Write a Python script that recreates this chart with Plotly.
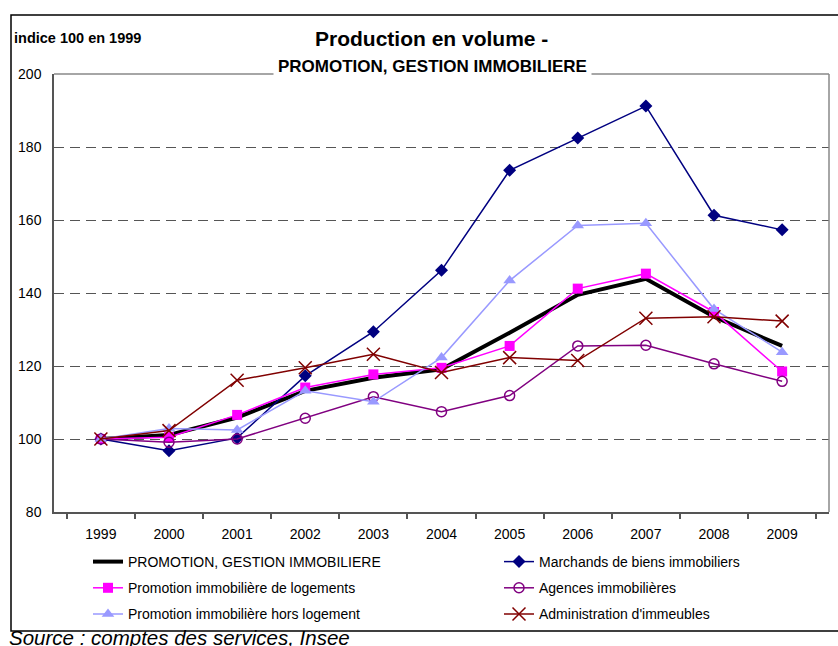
import plotly.graph_objects as go

# ---- data ----
years = ['1999', '2000', '2001', '2002', '2003', '2004', '2005', '2006', '2007', '2008', '2009']
promotion_gestion = [100, 101.1, 105.9, 113.2, 116.8, 119.1, 129.1, 139.5, 143.9, 133.5, 125.5]
marchands = [100, 96.8, 100.3, 117.3, 129.4, 146.2, 173.6, 182.5, 191.2, 161.3, 157.3]
promo_logements = [100, 100.5, 106.6, 114.1, 117.7, 119.5, 125.5, 141.2, 145.3, 134.8, 118.5]
agences = [100, 99.1, 100.0, 105.7, 111.6, 107.5, 111.9, 125.5, 125.7, 120.6, 115.8]
promo_hors_logement = [100, 102.9, 102.5, 113.2, 110.2, 122.3, 143.4, 158.5, 159.1, 135.6, 123.8]
administration = [100, 102.3, 116.1, 119.5, 123.2, 118.2, 122.3, 121.5, 133.1, 133.5, 132.3]

y_ticks = [80, 100, 120, 140, 160, 180, 200]

FONT = 'Liberation Sans, Arial, sans-serif'

fig = go.Figure()

series = [
    ("PROMOTION, GESTION IMMOBILIERE", promotion_gestion, dict(color='black', width=4), None, 'legend'),
    ("Marchands de biens immobiliers", marchands, dict(color='#000080', width=1.5),
     dict(symbol='diamond', size=10, color='#000080'), 'legend2'),
    ("Promotion immobilière de logements", promo_logements, dict(color='#FF00FF', width=1.5),
     dict(symbol='square', size=10, color='#FF00FF'), 'legend'),
    ("Agences immobilières", agences, dict(color='#800080', width=1.5),
     dict(symbol='circle-open', size=10, color='#800080', line=dict(width=1.5, color='#800080')), 'legend2'),
    ("Promotion immobilière hors logement", promo_hors_logement, dict(color='#9999FF', width=1.5),
     dict(symbol='triangle-up', size=11, color='#9999FF'), 'legend'),
    ("Administration d'immeubles", administration, dict(color='#800000', width=1.5),
     dict(symbol='x-thin-open', size=13, color='#800000', line=dict(width=1.5, color='#800000')), 'legend2'),
]

for i, (name, vals, line, marker, leg) in enumerate(series):
    kw = dict(x=years, y=vals, name=name, line=line, legend=leg, legendgroup='g%d' % i)
    if marker is None:
        kw['mode'] = 'lines'
    else:
        kw['mode'] = 'lines+markers'
        kw['marker'] = marker
    fig.add_trace(go.Scatter(**kw))

# pixel -> paper helpers (plot area: x 54..829, y 74..512)
L, R, T, B = 54, 829, 74, 512
def px(x):
    return (x - L) / (R - L)
def py(y):
    return (B - y) / (B - T)

legend_common = dict(orientation='v', xanchor='left', yanchor='top', bgcolor='rgba(0,0,0,0)',
                     borderwidth=0, font=dict(family=FONT, size=14, color='black'),
                     tracegroupgap=5, traceorder='grouped')

fig.update_layout(
    width=838, height=646, autosize=False,
    margin=dict(l=L, r=838 - R, t=T, b=646 - B, pad=0),
    paper_bgcolor='white', plot_bgcolor='white',
    font=dict(family=FONT, size=14, color='black'),
    showlegend=True,
    legend=dict(x=px(88), y=py(546), **legend_common),
    legend2=dict(x=px(499), y=py(546), **legend_common),
    xaxis=dict(type='category', tickson='boundaries', ticks='outside', ticklen=5,
               tickwidth=1.5, tickcolor='#555555', showline=True, linecolor='#555555',
               linewidth=1.5, showgrid=False, zeroline=False, ticklabelstandoff=8,
               tickfont=dict(family=FONT, size=14, color='black'), automargin=False),
    yaxis=dict(range=[80, 200], tickvals=y_ticks, showgrid=True, gridcolor='#555555',
               griddash='10px,6px', gridwidth=1, showline=True, linecolor='#555555',
               linewidth=1.5, ticks='', zeroline=False, ticklabelstandoff=8,
               tickfont=dict(family=FONT, size=14, color='black'), automargin=False),
    shapes=[
        # top & right borders of plot area
        dict(type='line', xref='paper', yref='paper', x0=0, x1=1, y0=1, y1=1,
             line=dict(color='#888888', width=1.5), layer='above'),
        dict(type='line', xref='paper', yref='paper', x0=1, x1=1, y0=0, y1=1,
             line=dict(color='#888888', width=1.5), layer='above'),
        # outer frame
        dict(type='rect', xref='paper', yref='paper', x0=px(11), x1=px(842), y0=py(631), y1=py(15),
             line=dict(color='black', width=1.5), layer='above'),
    ],
    annotations=[
        dict(text='<b>Production en volume -</b>', x=px(431), y=py(38.5), xref='paper', yref='paper',
             xanchor='center', yanchor='middle', showarrow=False,
             font=dict(family=FONT, size=21, color='black')),
        dict(text='<b>PROMOTION, GESTION IMMOBILIERE</b>', x=px(432), y=py(66), xref='paper', yref='paper',
             xanchor='center', yanchor='middle', showarrow=False, bgcolor='white', borderpad=4,
             font=dict(family=FONT, size=17, color='black')),
        dict(text='<b>indice 100 en 1999</b>', x=px(12), y=py(38.5), xref='paper', yref='paper',
             xanchor='left', yanchor='middle', showarrow=False,
             font=dict(family=FONT, size=14.5, color='black')),
        dict(text='<i>Source : comptes des services, Insee</i>', x=px(7), y=py(637.5), xref='paper', yref='paper',
             xanchor='left', yanchor='middle', showarrow=False,
             font=dict(family=FONT, size=20.5, color='black')),
    ],
)

fig.write_html("out.html")
